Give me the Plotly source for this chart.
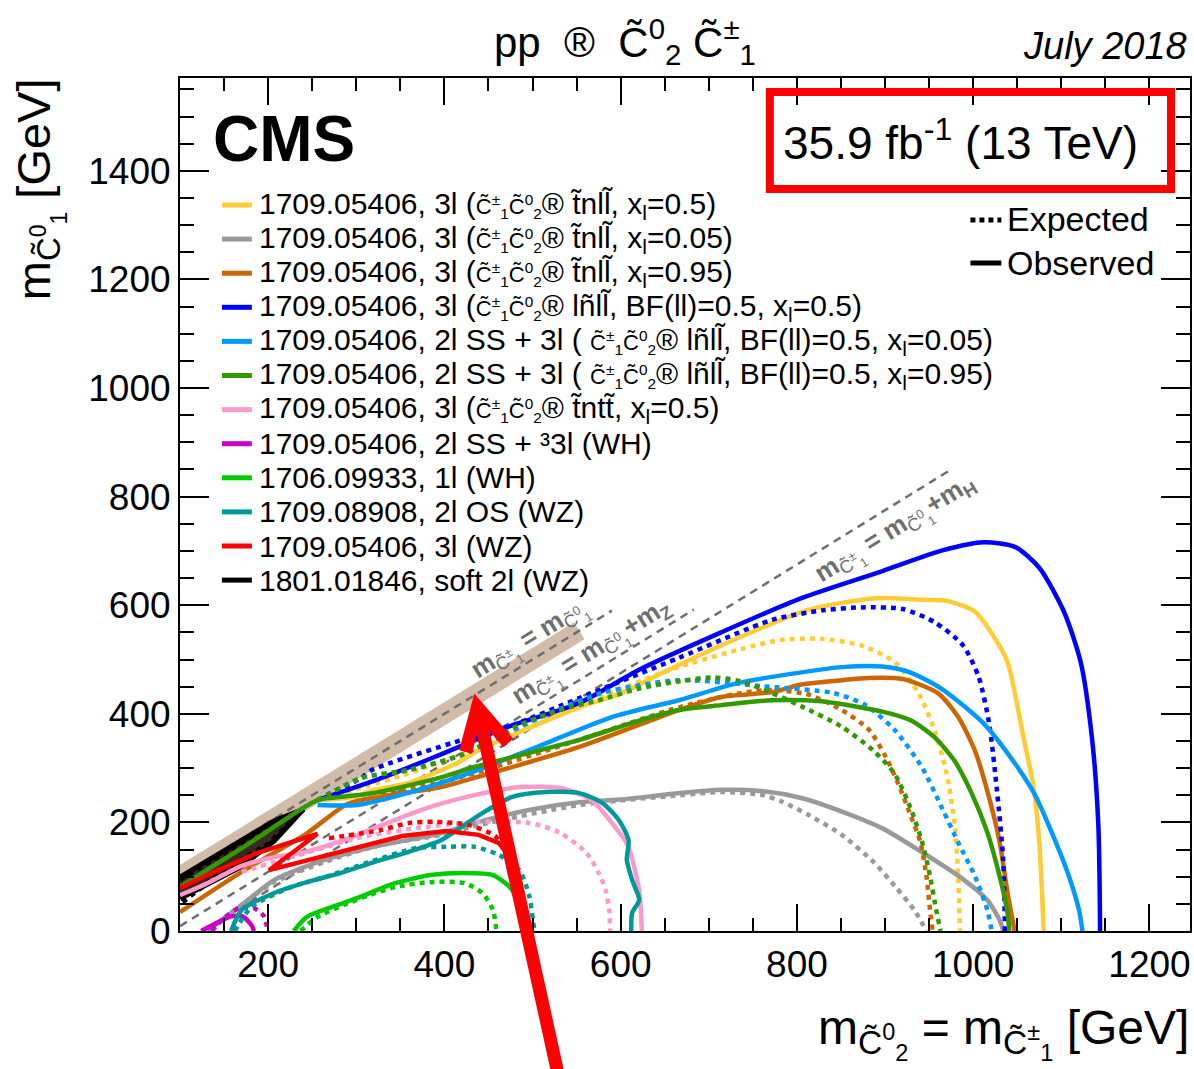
import plotly.graph_objects as go

# ---------------- data (GeV) ----------------
yellow_obs_x = [256, 298, 320, 358, 414, 439, 553, 601, 647, 695, 812, 890, 942, 970, 1002, 1025, 1039, 1048, 1057, 1068, 1075, 1080]
yellow_obs_y = [241, 247, 260, 272, 309, 333, 412, 438, 475, 512, 591, 613, 610, 608, 588, 538, 495, 432, 357, 270, 164, 0]
yellow_exp_x = [256, 349, 439, 553, 656, 736, 782, 828, 873, 911, 938, 956, 970, 979, 983, 985]
yellow_exp_y = [241, 285, 337, 414, 481, 519, 536, 538, 526, 495, 438, 370, 289, 195, 101, 0]

gray_obs_x = [131, 170, 207, 264, 320, 396, 439, 496, 553, 599, 667, 714, 759, 805, 851, 897, 942, 988, 1016, 1030, 1034]
gray_obs_y = [0, 48, 94, 131, 155, 180, 201, 223, 237, 242, 254, 260, 258, 245, 220, 189, 145, 96, 57, 20, 0]
gray_exp_x = [131, 170, 207, 264, 326, 396, 439, 553, 667, 714, 759, 782, 814, 851, 887, 911, 933, 947]
gray_exp_y = [0, 48, 90, 127, 158, 177, 195, 232, 250, 256, 251, 239, 213, 177, 127, 83, 39, 0]

orange_obs_x = [100, 170, 244, 290, 326, 396, 434, 553, 666, 714, 772, 805, 851, 881, 920, 960, 983, 1002, 1016, 1030, 1039, 1047]
orange_obs_y = [35, 109, 180, 234, 247, 265, 282, 339, 407, 431, 440, 454, 462, 466, 464, 438, 394, 332, 258, 164, 70, 0]
orange_exp_x = [328, 396, 439, 553, 666, 736, 772, 812, 851, 882, 901, 915, 929, 940, 947, 951, 954]
orange_exp_y = [254, 274, 293, 352, 412, 438, 444, 436, 407, 370, 320, 271, 213, 164, 101, 39, 0]

blue_obs_x = [256, 326, 388, 472, 553, 622, 714, 805, 897, 965, 1012, 1048, 1075, 1103, 1122, 1135, 1142, 1144]
blue_obs_y = [241, 280, 320, 376, 420, 482, 550, 613, 663, 701, 716, 707, 669, 588, 495, 352, 195, 0]
blue_exp_x = [256, 306, 317, 420, 477, 553, 666, 772, 831, 873, 920, 956, 988, 1006, 1018, 1027, 1034, 1036]
blue_exp_y = [241, 282, 296, 352, 379, 429, 503, 573, 591, 596, 593, 569, 527, 469, 383, 258, 132, 0]

lblue_obs_x = [256, 301, 358, 422, 496, 590, 666, 734, 851, 897, 929, 965, 1012, 1048, 1070, 1089, 1107, 1120, 1124]
lblue_obs_y = [232, 232, 254, 287, 333, 394, 425, 457, 486, 487, 476, 445, 382, 307, 251, 182, 108, 39, 0]
lblue_exp_x = [256, 306, 358, 419, 507, 578, 666, 759, 842, 878, 911, 942, 965, 983, 1002, 1016, 1021]
lblue_exp_y = [241, 282, 296, 324, 392, 438, 462, 451, 438, 416, 370, 301, 225, 163, 101, 39, 0]

green_obs_x = [100, 179, 256, 283, 320, 396, 434, 553, 622, 666, 714, 772, 828, 897, 929, 956, 979, 997, 1016, 1030, 1039, 1041]
green_obs_y = [81, 162, 241, 247, 254, 283, 302, 352, 388, 407, 416, 425, 423, 404, 388, 357, 313, 258, 182, 101, 33, 0]
green_exp_x = [256, 306, 358, 419, 485, 530, 575, 622, 667, 704, 736, 772, 805, 851, 887, 911, 929, 942, 951, 958, 963]
green_exp_y = [241, 282, 296, 324, 379, 407, 425, 447, 460, 467, 460, 438, 414, 376, 332, 289, 226, 164, 101, 39, 0]

pink_obs_x = [100, 131, 170, 207, 238, 292, 326, 383, 439, 485, 533, 567, 590, 608, 621, 624]
pink_obs_y = [66, 88, 120, 136, 144, 171, 193, 228, 252, 265, 263, 241, 199, 158, 75, 0]
pink_exp_x = [170, 235, 306, 371, 439, 496, 530, 561, 575, 583, 587, 588]
pink_exp_y = [109, 140, 173, 190, 201, 199, 182, 144, 107, 75, 39, 0]

magenta_obs_x = [124, 142, 158, 171, 181, 184]
magenta_obs_y = [0, 15, 27, 27, 11, 0]
magenta_exp_x = [136, 150, 167, 184, 196, 199]
magenta_exp_y = [0, 24, 42, 42, 26, 0]

bgreen_obs_x = [229, 244, 272, 303, 326, 344, 384, 423, 455, 474, 487, 490]
bgreen_obs_y = [0, 26, 44, 62, 77, 88, 103, 107, 103, 81, 44, 0]
bgreen_exp_x = [237, 256, 286, 315, 344, 384, 423, 443, 455, 459]
bgreen_exp_y = [0, 26, 48, 66, 81, 90, 88, 70, 39, 0]

teal_obs_x = [158, 170, 207, 244, 283, 320, 358, 396, 439, 477, 515, 553, 579, 598, 609, 607, 613, 621, 613, 612]
teal_obs_y = [0, 39, 70, 90, 107, 127, 145, 167, 213, 247, 256, 254, 236, 204, 167, 131, 94, 57, 33, 0]
teal_exp_x = [162, 181, 226, 264, 315, 369, 402, 434, 462, 485, 496, 502]
teal_exp_y = [0, 44, 81, 99, 127, 153, 155, 155, 140, 112, 66, 0]

red_obs_x = [100, 131, 188, 226, 256, 201, 258, 320, 352, 402, 439, 462, 476, 485, 494]
red_obs_y = [79, 103, 144, 164, 179, 112, 136, 162, 175, 184, 177, 162, 131, 75, 0]
red_exp_x = [269, 328, 360, 391, 428, 459, 472, 484, 494]
red_exp_y = [171, 186, 199, 201, 195, 173, 131, 75, 0]

black_obs_x = [100, 150, 207, 240, 207, 169, 130, 100]
black_obs_y = [99, 147, 203, 224, 166, 118, 84, 60]
black_exp_x = [100, 160, 220, 240, 200, 150, 100]
black_exp_y = [95, 152, 210, 224, 160, 112, 50]

# kinematic reference lines
band_x = [100, 553]
band_y = [100, 553]
diag_x = [100, 590]
diag_y = [100, 590]
mz_x = [100, 683]
mz_y = [9, 592]
mh_x = [125, 972]
mh_y = [0, 847]

x_ticks = [200, 400, 600, 800, 1000, 1200]
y_ticks = [0, 200, 400, 600, 800, 1000, 1200, 1400]

legend_labels = [
    "1709.05406, 3l ({s}® t̃nll̃, x<sub>l</sub>=0.5)",
    "1709.05406, 3l ({s}® t̃nll̃, x<sub>l</sub>=0.05)",
    "1709.05406, 3l ({s}® t̃nll̃, x<sub>l</sub>=0.95)",
    "1709.05406, 3l ({s}® lñll̃, BF(ll)=0.5, x<sub>l</sub>=0.5)",
    "1709.05406, 2l SS + 3l ( {s}® lñll̃, BF(ll)=0.5, x<sub>l</sub>=0.05)",
    "1709.05406, 2l SS + 3l ( {s}® lñll̃, BF(ll)=0.5, x<sub>l</sub>=0.95)",
    "1709.05406, 3l ({s}® t̃ntt̃, x<sub>l</sub>=0.5)",
    "1709.05406, 2l SS + ³3l (WH)",
    "1706.09933, 1l (WH)",
    "1709.08908, 2l OS (WZ)",
    "1709.05406, 3l (WZ)",
    "1801.01846, soft 2l (WZ)",
]

YEL = '#FFCC33'; GRY = '#999999'; ORG = '#CC6600'; BLU = '#0000FF'; LBL = '#0099FF'
GRN = '#339900'; PNK = '#FF99CC'; MAG = '#CC00CC'; BGR = '#00CC00'; TEA = '#009999'
RED = '#FF0000'; BLK = '#000000'
legend_colors = [YEL, GRY, ORG, BLU, LBL, GRN, PNK, MAG, BGR, TEA, RED, BLK]

# ---------------- layout geometry ----------------
W, H = 1194, 1069
ML, MR, MT, MB = 180, 2, 78, 138
PW = W - ML - MR
PH = H - MT - MB
FONT = "Liberation Sans, Arial, sans-serif"


def pxx(x):
    return (x - ML) / PW


def pxy(y):
    return (H - MB - y) / PH


fig = go.Figure()


def add(x, y, color, dash=None, width=4.5, shape='spline', fill=None, fillcolor=None):
    fig.add_trace(go.Scatter(
        x=x, y=y, mode='lines', showlegend=False, hoverinfo='skip',
        fill=fill, fillcolor=fillcolor,
        line=dict(color=color, width=width, dash=dash, shape=shape, smoothing=0.7 if shape == 'spline' else None)))


DOT = '5px,5px'
# band and reference lines
add(band_x, band_y, 'rgba(205,184,163,0.95)', width=20, shape='linear')
add(diag_x, diag_y, '#6e6e6e', dash='8px,6px', width=2.5, shape='linear')
add(mz_x, mz_y, '#6e6e6e', dash='8px,6px', width=2.5, shape='linear')
add(mh_x, mh_y, '#6e6e6e', dash='8px,6px', width=2.5, shape='linear')

# black soft 2l
add(black_obs_x, black_obs_y, BLK, width=5, shape='linear', fill='toself', fillcolor='#3a2a1c')
add(black_exp_x, black_exp_y, BLK, dash=DOT, width=5, shape='linear')

# curves in legend order
add(yellow_exp_x, yellow_exp_y, YEL, dash=DOT)
add(yellow_obs_x, yellow_obs_y, YEL)
add(gray_exp_x, gray_exp_y, GRY, dash=DOT)
add(gray_obs_x, gray_obs_y, GRY)
add(orange_exp_x, orange_exp_y, ORG, dash=DOT)
add(orange_obs_x, orange_obs_y, ORG)
add(blue_exp_x, blue_exp_y, BLU, dash=DOT)
add(blue_obs_x, blue_obs_y, BLU)
add(lblue_exp_x, lblue_exp_y, LBL, dash=DOT)
add(lblue_obs_x, lblue_obs_y, LBL)
add(green_exp_x, green_exp_y, GRN, dash=DOT)
add(green_obs_x, green_obs_y, GRN)
add(pink_exp_x, pink_exp_y, PNK, dash=DOT)
add(pink_obs_x, pink_obs_y, PNK)
add(magenta_exp_x, magenta_exp_y, MAG, dash=DOT)
add(magenta_obs_x, magenta_obs_y, MAG)
add(bgreen_exp_x, bgreen_exp_y, BGR, dash=DOT)
add(bgreen_obs_x, bgreen_obs_y, BGR)
add(teal_exp_x, teal_exp_y, TEA, dash=DOT)
add(teal_obs_x, teal_obs_y, TEA)
add(red_exp_x, red_exp_y, RED, dash=DOT)
add(red_obs_x, red_obs_y, RED, shape='linear')

annotations = []
shapes = []

# diagonal line labels
sub1 = "<sub>C̃<sup>±</sup><sub>1</sub></sub>"
sub0 = "<sub>C̃<sup>0</sup><sub>1</sub></sub>"
diag_labels = [
    (497, 536, "<b>m</b>" + sub1 + "<b> = m</b>" + sub0),
    (567, 512, "<b>m</b>" + sub1 + "<b> = m</b>" + sub0 + "<b>+m<sub>Z</sub></b>"),
    (912, 738, "<b>m</b>" + sub1 + "<b> = m</b>" + sub0 + "<b>+m<sub>H</sub></b>"),
]
for x, y, t in diag_labels:
    annotations.append(dict(x=x, y=y, xref='x', yref='y', text=t, showarrow=False,
                            textangle=-31.6, font=dict(family=FONT, size=26, color='#6e6e6e')))

# legend
sym = "<span style='font-size:22px'>C̃<sup>±</sup><sub>1</sub>C̃<sup>0</sup><sub>2</sub></span>"
leg_y0, leg_dy = 205, 34.1
for i, (lab, col) in enumerate(zip(legend_labels, legend_colors)):
    yc = leg_y0 + i * leg_dy
    shapes.append(dict(type='line', xref='paper', yref='paper', x0=pxx(222), x1=pxx(252),
                       y0=pxy(yc), y1=pxy(yc), line=dict(color=col, width=5)))
    annotations.append(dict(x=pxx(257), y=pxy(yc), xref='paper', yref='paper', xanchor='left',
                            yanchor='middle', text=lab.format(s=sym), showarrow=False,
                            font=dict(family=FONT, size=30, color='black')))

# expected / observed
shapes.append(dict(type='line', xref='paper', yref='paper', x0=pxx(972), x1=pxx(1003),
                   y0=pxy(220), y1=pxy(220), line=dict(color='black', width=5, dash='5px,4px')))
shapes.append(dict(type='line', xref='paper', yref='paper', x0=pxx(972), x1=pxx(1003),
                   y0=pxy(263), y1=pxy(263), line=dict(color='black', width=5)))
annotations.append(dict(x=pxx(1007), y=pxy(219), xref='paper', yref='paper', xanchor='left', yanchor='middle',
                        text='Expected', showarrow=False, font=dict(family=FONT, size=34, color='black')))
annotations.append(dict(x=pxx(1007), y=pxy(263), xref='paper', yref='paper', xanchor='left', yanchor='middle',
                        text='Observed', showarrow=False, font=dict(family=FONT, size=34, color='black')))

# CMS, lumi, title, date
annotations.append(dict(x=pxx(211), y=pxy(139), xref='paper', yref='paper', xanchor='left', yanchor='middle',
                        text='<b>CMS</b>', showarrow=False, font=dict(family=FONT, size=64, color='black')))
annotations.append(dict(x=pxx(962), y=pxy(140), xref='paper', yref='paper', xanchor='center', yanchor='middle',
                        text='35.9 fb<sup>-1</sup> (13 TeV)', showarrow=False,
                        font=dict(family=FONT, size=46, color='black')))
annotations.append(dict(x=pxx(1191), y=pxy(46), xref='paper', yref='paper', xanchor='right', yanchor='middle',
                        text='<i>July 2018</i>', showarrow=False, font=dict(family=FONT, size=38, color='black')))
annotations.append(dict(x=pxx(626), y=pxy(42), xref='paper', yref='paper', xanchor='center', yanchor='middle',
                        text='pp  ®  C̃<sup>0</sup><sub>2</sub> C̃<sup>±</sup><sub>1</sub>', showarrow=False,
                        font=dict(family=FONT, size=42, color='black')))

# axis titles
annotations.append(dict(x=pxx(1193), y=pxy(1033), xref='paper', yref='paper', xanchor='right', yanchor='middle',
                        text='m<sub>C̃<sup>0</sup><sub>2</sub></sub> = m<sub>C̃<sup>±</sup><sub>1</sub></sub> [GeV]',
                        showarrow=False, font=dict(family=FONT, size=48, color='black')))
annotations.append(dict(x=pxx(40), y=pxy(76), xref='paper', yref='paper', xanchor='center', yanchor='top',
                        text='m<sub>C̃<sup>0</sup><sub>1</sub></sub> [GeV]', textangle=-90,
                        showarrow=False, font=dict(family=FONT, size=47, color='black')))

# red box around luminosity label
shapes.append(dict(type='rect', xref='paper', yref='paper', x0=pxx(771), x1=pxx(1173),
                   y0=pxy(189), y1=pxy(92), line=dict(color='red', width=8), layer='above'))
# big red arrow overlay
tip = (478, 707)
shapes.append(dict(type='line', xref='paper', yref='paper', x0=pxx(559), y0=pxy(1075),
                   x1=pxx(481), y1=pxy(720), line=dict(color='red', width=13), layer='above'))
shapes.append(dict(type='path', xref='paper', yref='paper', layer='above',
                   path='M {} {} L {} {} L {} {}'.format(pxx(466), pxy(752), pxx(tip[0]), pxy(tip[1]),
                                                         pxx(509), pxy(743)),
                   line=dict(color='red', width=13)))

fig.update_layout(
    width=W, height=H, margin=dict(l=ML, r=MR, t=MT, b=MB),
    paper_bgcolor='white', plot_bgcolor='white',
    annotations=annotations, shapes=shapes,
    font=dict(family=FONT, color='black'),
    xaxis=dict(range=[100, 1246], tickvals=x_ticks, ticks='inside', ticklen=27, tickwidth=1.5,
               tickcolor='black', showline=True, linecolor='black', linewidth=2, mirror='ticks',
               showgrid=False, zeroline=False, tickfont=dict(family=FONT, size=37, color='black'),
               minor=dict(dtick=50, tick0=0, ticks='inside', ticklen=13, tickwidth=1.5, tickcolor='black')),
    yaxis=dict(range=[0, 1571], tickvals=y_ticks, ticks='inside', ticklen=29, tickwidth=1.5,
               tickcolor='black', showline=True, linecolor='black', linewidth=2, mirror='ticks',
               showgrid=False, zeroline=False, tickfont=dict(family=FONT, size=37, color='black'),
               minor=dict(dtick=50, tick0=0, ticks='inside', ticklen=14, tickwidth=1.5, tickcolor='black')),
)

fig.write_html("out.html", config={'displayModeBar': False},
               post_script="document.body.style.margin='0';document.body.style.overflow='hidden';")
